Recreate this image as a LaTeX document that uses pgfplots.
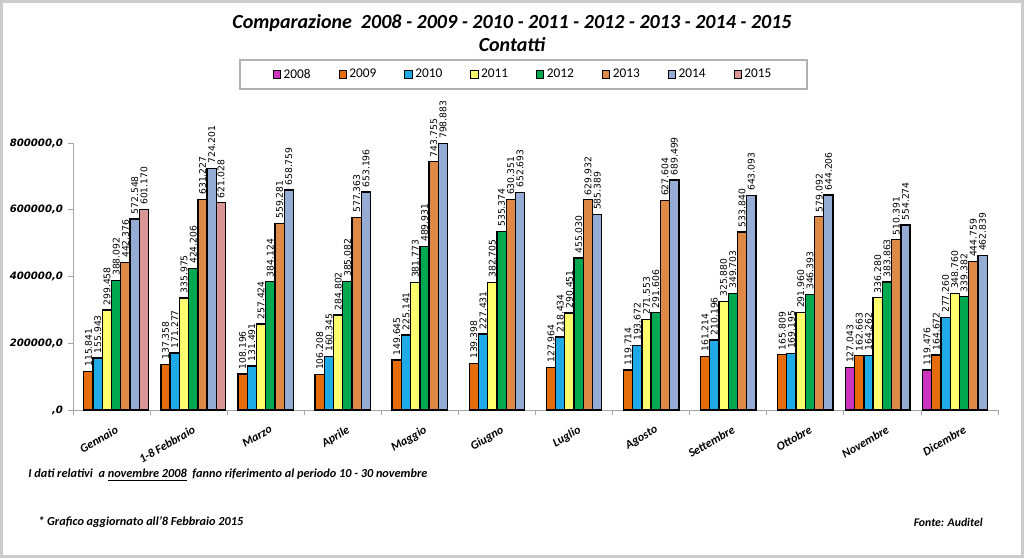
\documentclass[border=0pt]{standalone}
\usepackage{pgfplots}
\pgfplotsset{compat=1.18}
\usepackage{fontspec}
\setmainfont{Carlito}
\newfontfamily\dejavu{DejaVu Sans}
\definecolor{c2008}{RGB}{204,51,190}
\definecolor{c2009}{RGB}{228,108,10}
\definecolor{c2010}{RGB}{30,170,230}
\definecolor{c2011}{RGB}{255,255,110}
\definecolor{c2012}{RGB}{0,168,80}
\definecolor{c2013}{RGB}{222,138,70}
\definecolor{c2014}{RGB}{149,172,212}
\definecolor{c2015}{RGB}{217,150,148}
\begin{document}
\begin{tikzpicture}
\path[use as bounding box] (0pt,0pt) rectangle (768pt,-418.5pt);
\begin{axis}[
  at={(54.75pt,-307.5pt)}, anchor=south west,
  scale only axis, width=693.75pt, height=200.25pt,
  xmin=-0.5, xmax=11.5, ymin=0, ymax=800000,
  ybar=0pt, bar width=0.12,
  clip=false,
  axis x line*=bottom, axis y line*=left,
  axis line style={draw=gray!70, line width=0.6pt},
  tick align=outside, major tick length=4pt,
  tick style={draw=gray!70, line width=0.6pt},
  xtick={-0.5,0.5,1.5,2.5,3.5,4.5,5.5,6.5,7.5,8.5,9.5,10.5,11.5},
  x tick label as interval,
  xticklabels={Gennaio,1-8 Febbraio,Marzo,Aprile,Maggio,Giugno,Luglio,Agosto,Settembre,Ottobre,Novembre,Dicembre},
  xticklabel style={rotate=30, anchor=north east, font=\bfseries\itshape\fontsize{9}{10}\selectfont, xshift=2pt, yshift=-4pt},
  ytick={0,200000,400000,600000,800000},
  yticklabels={{,0},{200000,0},{400000,0},{600000,0},{800000,0}},
  yticklabel style={font=\dejavu\bfseries\itshape\fontsize{7.6}{9}\selectfont},
  scaled y ticks=false,
  every axis plot/.append style={draw=black, line width=1pt},
  nodes near coords={\pgfmathprintnumber[fixed,precision=0,1000 sep={.},assume math mode=true]{\pgfplotspointmeta}},
  every node near coord/.append style={rotate=90, anchor=west, font=\dejavu\fontsize{6.9}{7}\selectfont, inner sep=3pt, text=black},
  legend columns=8,
  legend style={at={(0.487,1.2566)}, anchor=center, draw=gray!60, line width=1.5pt,
    font=\fontsize{10}{12}\selectfont, inner xsep=24.5pt, inner ysep=5pt,
    /tikz/every even column/.append style={column sep=19pt}},
  legend image code/.code={\draw[#1,line width=0.7pt,draw=black] (0pt,-2.7pt) rectangle (5.4pt,2.7pt);},
]
\addplot[fill=c2008] coordinates {(10,127043) (11,119476)};
\addplot[fill=c2009] coordinates {(0,115841) (1,137358) (2,108196) (3,106208) (4,149645) (5,139398) (6,127964) (7,119714) (8,161214) (9,165809) (10,162663) (11,164672)};
\addplot[fill=c2010] coordinates {(0,155943) (1,171277) (2,131491) (3,160345) (4,225141) (5,227431) (6,218434) (7,193672) (8,210196) (9,169195) (10,164262) (11,277260)};
\addplot[fill=c2011] coordinates {(0,299458) (1,335975) (2,257424) (3,284802) (4,381773) (5,382705) (6,290451) (7,271553) (8,325880) (9,291960) (10,336280) (11,348760)};
\addplot[fill=c2012] coordinates {(0,388092) (1,424206) (2,384124) (3,385082) (4,489931) (5,535374) (6,455030) (7,291606) (8,349703) (9,346393) (10,383863) (11,339382)};
\addplot[fill=c2013] coordinates {(0,442376) (1,631227) (2,559281) (3,577363) (4,743755) (5,630351) (6,629932) (7,627604) (8,533840) (9,579092) (10,510391) (11,444759)};
\addplot[fill=c2014] coordinates {(0,572548) (1,724201) (2,658759) (3,653196) (4,798883) (5,652693) (6,585389) (7,689499) (8,643093) (9,644206) (10,554274) (11,462839)};
\addplot[fill=c2015] coordinates {(0,601170) (1,621028)};
\legend{2008,2009,2010,2011,2012,2013,2014,2015}
\end{axis}
\begin{scope}[x=0.75pt,y=-0.75pt]
\draw[line width=2.2pt, gray!40] (1.5,1.5) rectangle (1022.5,556.5);
\node[font=\bfseries\itshape\fontsize{15}{18}\selectfont] at (512,23) {Comparazione\ \ 2008 - 2009 - 2010 - 2011 - 2012 - 2013 - 2014 - 2015};
\node[font=\bfseries\itshape\fontsize{15}{18}\selectfont] at (512,45) {Contatti};
\node[anchor=west, font=\bfseries\itshape\fontsize{9.2}{11}\selectfont, inner sep=0pt] at (28,475) {I dati relativi\ \ a \underline{novembre 2008}\ \ fanno riferimento al periodo 10 - 30 novembre};
\node[anchor=west, font=\bfseries\itshape\fontsize{9.2}{11}\selectfont, inner sep=0pt] at (38,522) {* Grafico aggiornato all'8 Febbraio 2015};
\node[anchor=east, font=\bfseries\itshape\fontsize{8.8}{10}\selectfont, inner sep=0pt] at (983,522) {Fonte: Auditel};
\end{scope}
\end{tikzpicture}
\end{document}
